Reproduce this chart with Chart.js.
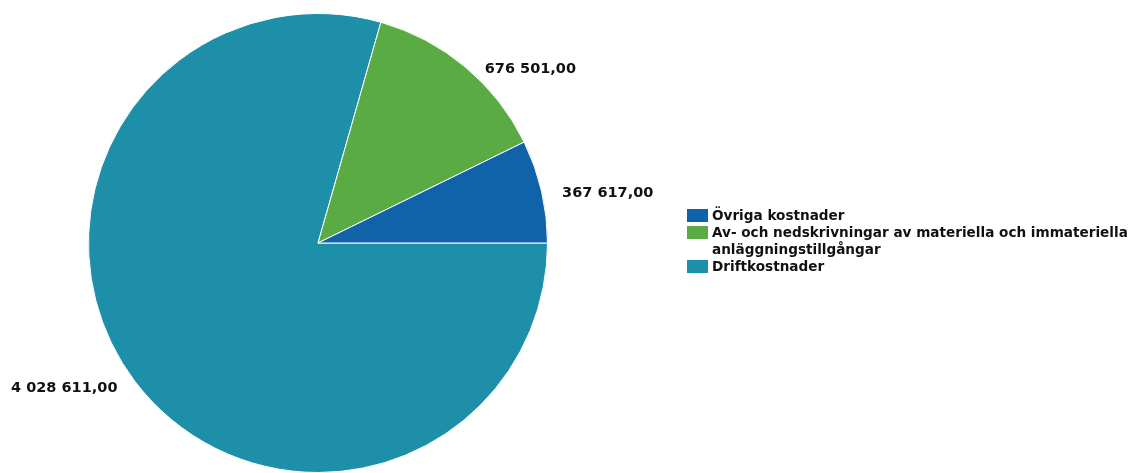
<!DOCTYPE html>
<html>
<head>
<meta charset="utf-8">
<script src="https://cdn.jsdelivr.net/npm/chart.js@4/dist/chart.umd.min.js"></script>
<style>
  html, body { margin: 0; padding: 0; background: #fff; }
  #wrap { position: relative; width: 1132px; height: 473px; }
  #legend {
    position: absolute; left: 687px; top: 207px; width: 445px;
    font: bold 13.6px "DejaVu Sans", Verdana, sans-serif; color: #111;
    line-height: 17px;
  }
  .item { display: flex; align-items: flex-start; }
  .box { flex: none; width: 21px; height: 13px; margin: 2px 4px 0 0; }
</style>
</head>
<body>
<div id="wrap">
  <canvas id="pie" width="1132" height="473"></canvas>
  <div id="legend"></div>
</div>
<script>
// data, in drawing order (clockwise from 3 o'clock)
const categories = ['Driftkostnader', 'Av- och nedskrivningar av materiella och immateriella anläggningstillgångar', 'Övriga kostnader'];
const values = [4028611, 676501, 367617];
const colors = ['#1e8fa9', '#5bab45', '#1063a8'];

function fmt(v) {
    return v.toString().replace(/\B(?=(\d{3})+(?!\d))/g, ' ') + ',00';
}

// Etiquettes de valeur à l'extérieur des parts
const valueLabels = {
    id: 'valueLabels',
    afterDatasetsDraw(chart, args, opts) {
        const ctx = chart.ctx;
        const meta = chart.getDatasetMeta(0);
        ctx.save();
        ctx.font = 'bold 14.5px "DejaVu Sans", Verdana, sans-serif';
        ctx.fillStyle = '#111';
        ctx.textBaseline = 'middle';
        meta.data.forEach((arc, i) => {
            const mid = (arc.startAngle + arc.endAngle) / 2;
            const r = arc.outerRadius + 18;
            const shift = opts.shift[i] || [0, 0];
            const x = arc.x + Math.cos(mid) * r + shift[0];
            const y = arc.y + Math.sin(mid) * r + shift[1];
            ctx.textAlign = Math.cos(mid) >= 0 ? 'left' : 'right';
            ctx.fillText(fmt(values[i]), x, y);
        });
        ctx.restore();
    }
};

const chart = new Chart(document.getElementById('pie'), {
    type: 'pie',
    data: {
        labels: categories,
        datasets: [{
            data: values,
            backgroundColor: colors,
            borderColor: '#fff',
            borderWidth: 1
        }]
    },
    options: {
        responsive: false,
        animation: false,
        rotation: 90,
        layout: { padding: { left: 88, right: 584, top: 13, bottom: 0 } },
        plugins: {
            legend: { display: false },
            tooltip: { enabled: false },
            valueLabels: { shift: [[-3, -4], [8, 16], [3, 6]] }
        }
    },
    plugins: [valueLabels]
});

// Légende HTML (ordre inversé, comme l'original)
const legend = document.getElementById('legend');
for (let i = categories.length - 1; i >= 0; i--) {
    const item = document.createElement('div');
    item.className = 'item';
    item.innerHTML = '<span class="box" style="background:' + colors[i] + '"></span><span>' + categories[i] + '</span>';
    legend.appendChild(item);
}
</script>
</body>
</html>
